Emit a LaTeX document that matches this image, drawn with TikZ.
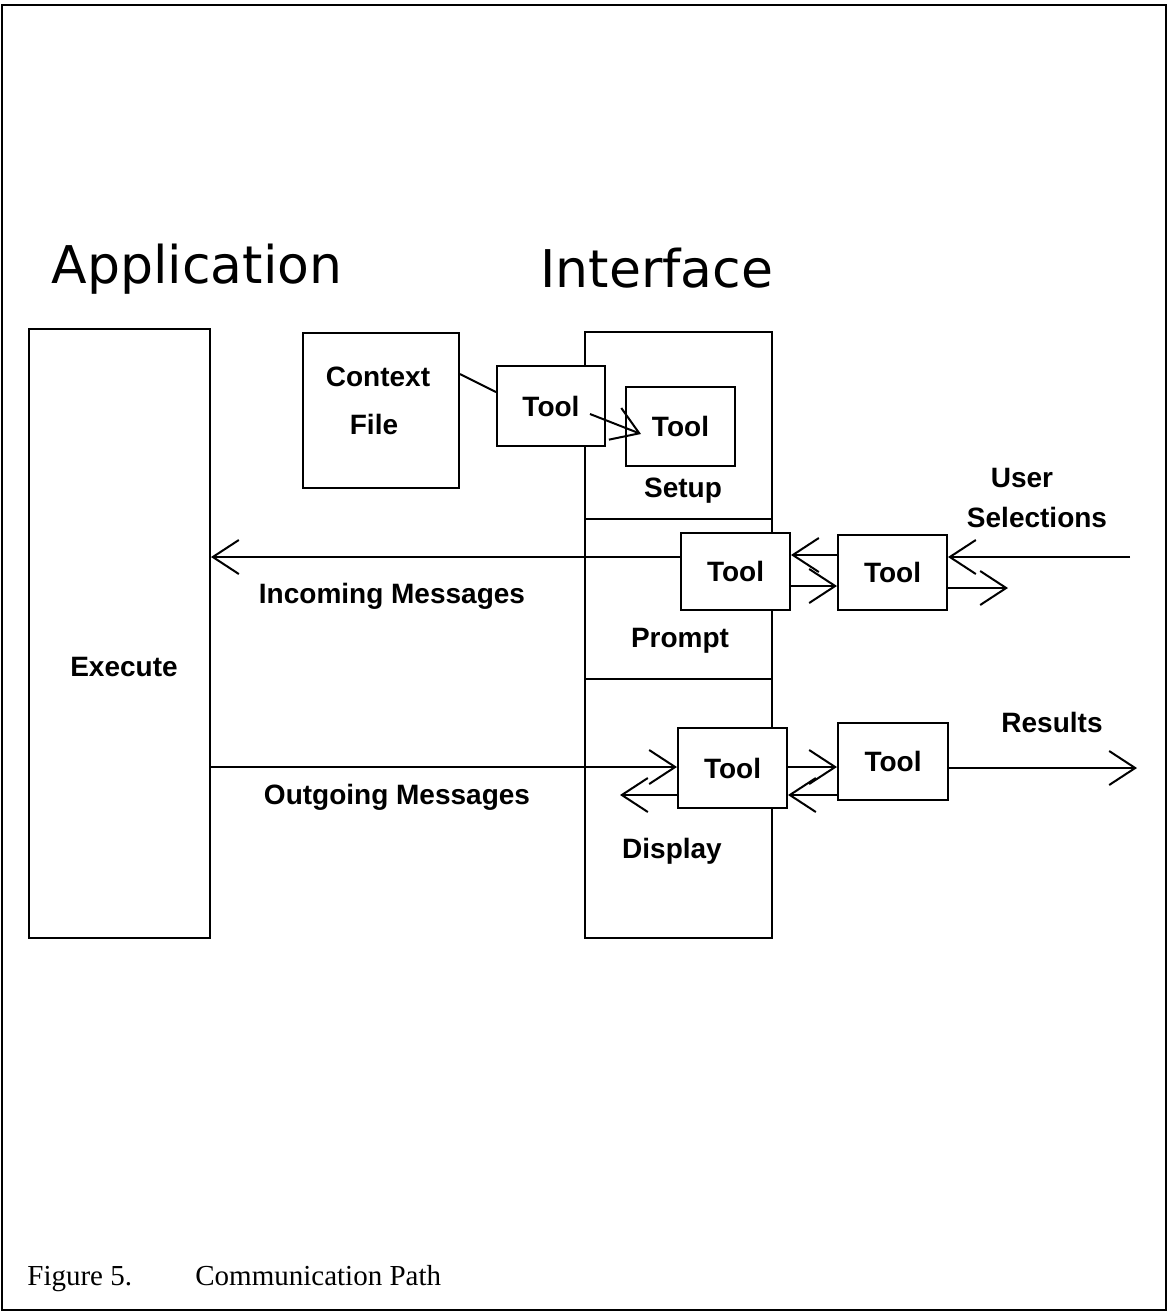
\documentclass[tikz,border=0pt]{standalone}
\usepackage{fontspec}
\setmainfont{Liberation Serif}
\setsansfont{Liberation Sans}
\newfontfamily\titlefont{DejaVu Sans}
\usetikzlibrary{arrows.meta}
\begin{document}
\begin{tikzpicture}[x=0.5pt,y=-0.5pt,
  box/.style={draw,line width=1pt,fill=white,inner sep=0pt},
  lbl/.style={font=\sffamily\bfseries\fontsize{14}{16}\selectfont,inner sep=0pt},
  big/.style={font=\titlefont\fontsize{26}{30}\selectfont,inner sep=0pt,anchor=base},
  arr/.style={line width=1pt,-{Straight Barb[length=13pt,width=17pt,line width=1pt]}},
  ln/.style={line width=1pt}]
\useasboundingbox (0,0) rectangle (1169,1313);
% frame
\draw[line width=1.2pt] (2,5) rectangle (1166,1310);
% titles
\node[big] (tapp) at (197,283) {Application};
\node[big] (tint) at (657,287) {Interface};
% boxes
\node[box,minimum width=90.5pt,minimum height=304.5pt] (app) at (119.5,633.5) {};
\node[box,minimum width=78pt,minimum height=77.5pt] (ctx) at (381,410.5) {};
\node[box,minimum width=93.5pt,minimum height=303pt] (iface) at (678.5,635) {};
\node[box,minimum width=54pt,minimum height=40pt,lbl] (t1) at (551,406) {Tool};
\node[box,minimum width=54.5pt,minimum height=39.5pt,lbl] (t2) at (680.5,426.5) {Tool};
\node[box,minimum width=54.5pt,minimum height=38.5pt,lbl] (tp) at (735.5,571.5) {Tool};
\node[box,minimum width=54.5pt,minimum height=37.5pt,lbl] (tu) at (892.5,572.5) {Tool};
\node[box,minimum width=54.5pt,minimum height=40pt,lbl] (td) at (732.5,768) {Tool};
\node[box,minimum width=55pt,minimum height=38.5pt,lbl] (tr) at (893,761.5) {Tool};
% labels
\node[lbl] (lctx) at (378,377) {Context};
\node[lbl] (lfile) at (374,424) {File};
\node[lbl] (lexe) at (124,667) {Execute};
\node[lbl] (lsetup) at (683,491) {Setup};
\node[lbl] (lprompt) at (680,641) {Prompt};
\node[lbl] (ldisp) at (672,851) {Display};
\node[lbl] (linc) at (392,596) {Incoming Messages};
\node[lbl] (lout) at (397,797) {Outgoing Messages};
\node[lbl] (luser) at (1022,478) {User};
\node[lbl] (lsel) at (1037,517) {Selections};
\node[lbl] (lres) at (1052,722) {Results};
% separators
\coordinate (s1) at (0,519);
\coordinate (s2) at (0,679);
\draw[ln] (iface.west |- s1) -- (iface.east |- s1);
\draw[ln] (iface.west |- s2) -- (iface.east |- s2);
% context to tool
\coordinate (c374) at (0,374);
\coordinate (c392) at (0,392);
\draw[ln] (ctx.east |- c374) -- (t1.west |- c392);
\coordinate (a1) at (590,414);
\coordinate (a2) at (641,434);
\draw[arr] (a1) -- (a2);
% incoming row
\coordinate (usr) at (1130,557);
\coordinate (y555) at (0,555);
\coordinate (y586) at (0,586);
\draw[arr] (usr) -- (tu.east |- usr);
\draw[arr] (tu.west |- y555) -- (tp.east |- y555);
\draw[arr] (tp.west |- usr) -- (app.east |- usr);
\draw[arr] (tp.east |- y586) -- (tu.west |- y586);
\coordinate (uo) at (1008,588);
\draw[arr] (tu.east |- uo) -- (uo);
% outgoing row
\coordinate (y767) at (0,767);
\coordinate (res) at (1137,768);
\coordinate (ret) at (620,795);
\draw[arr] (app.east |- y767) -- (td.west |- y767);
\draw[arr] (td.east |- y767) -- (tr.west |- y767);
\draw[arr] (tr.east |- res) -- (res);
\draw[arr] (tr.west |- ret) -- (td.east |- ret);
\draw[arr] (td.west |- ret) -- (ret);
% caption
\node[anchor=base west,inner sep=0pt,font=\fontsize{14.5}{17}\selectfont] (fig) at (27,1285) {Figure 5.};
\node[anchor=base west,inner sep=0pt,font=\fontsize{14.5}{17}\selectfont] (cap) at (195,1285) {Communication Path};
\end{tikzpicture}
\end{document}
